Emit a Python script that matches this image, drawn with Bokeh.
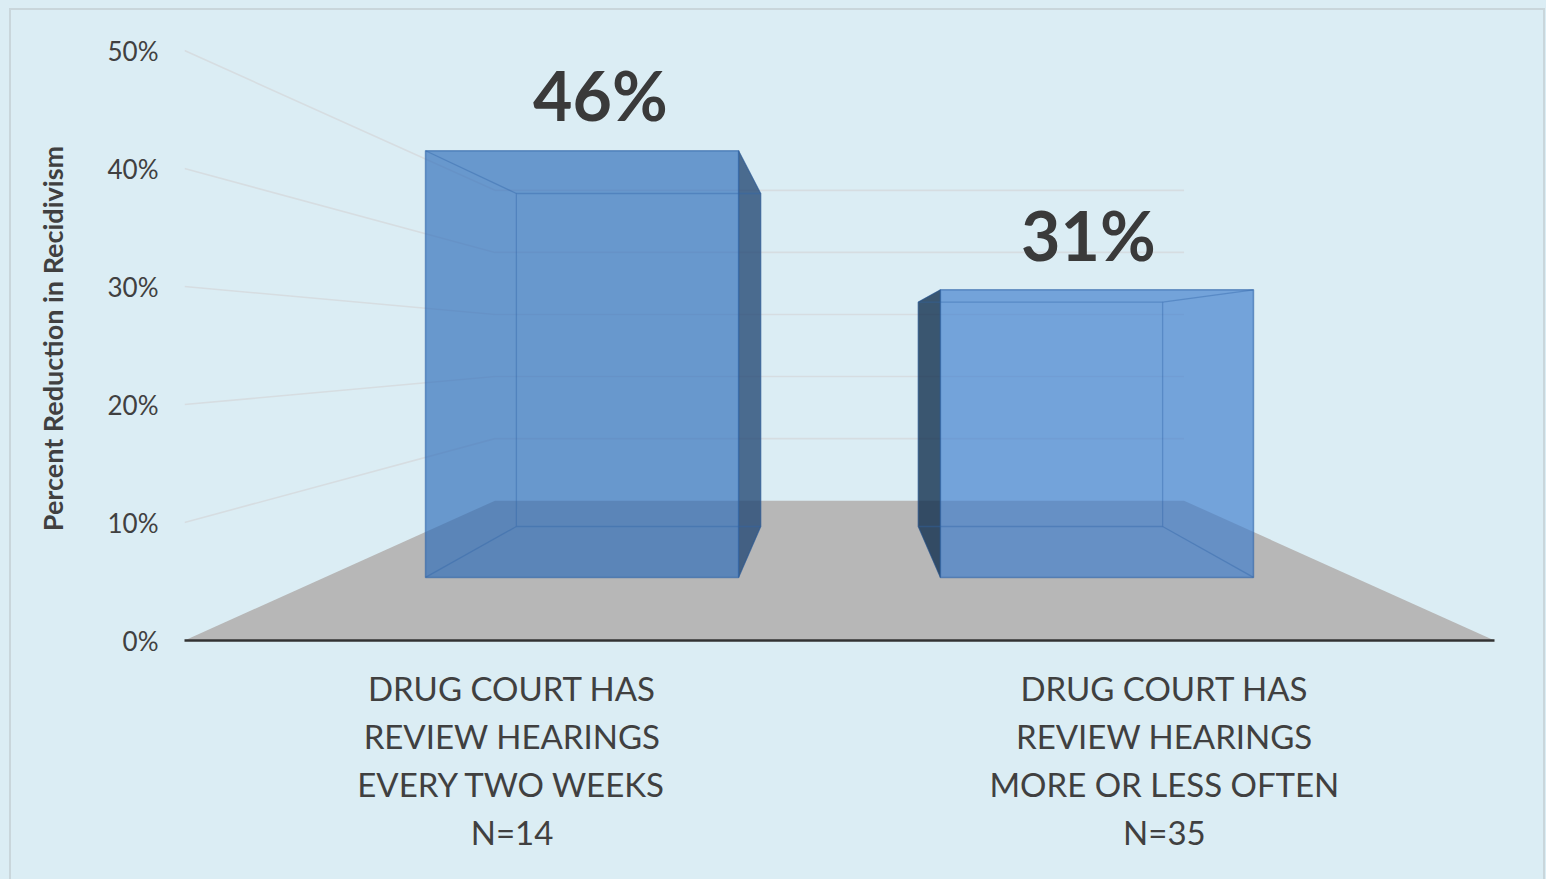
from bokeh.plotting import figure
from bokeh.embed import file_html
from bokeh.resources import INLINE
from bokeh.core.properties import value
from bokeh.models import Range1d, FixedTicker

# ---- data ----
categories = ["DRUG COURT HAS\nREVIEW HEARINGS\nEVERY TWO WEEKS\nN=14",
              "DRUG COURT HAS\nREVIEW HEARINGS\nMORE OR LESS OFTEN\nN=35"]
reduction = [46, 31]
value_labels = ["46%", "31%"]
y_ticks = [0, 10, 20, 30, 40, 50]
y_tick_labels = ["0%", "10%", "20%", "30%", "40%", "50%"]
y_title = "Percent Reduction in Recidivism"

# ---- 3D projection of the chart box (category units, percent units) ----
VP_X, VP_Y = 1.0, 25.0
K = 0.901
BAR_HALF = 0.304
D_FRONT, D_BACK = 0.302, 0.699
FLOOR_BACK = 1.0
label_x = [0.635, 1.38]
label_y = [46.3, 34.4]
cat_ticks = [0.5, 1.496]

def pr(x, y, d):
    s = 1.0 / (1.0 + K * d)
    return VP_X + s * (x - VP_X), VP_Y + s * (y - VP_Y)

def face(points):
    xy = [pr(*pt) for pt in points]
    return [a for a, _ in xy], [b for _, b in xy]

BG = "#dbedf4"
EDGE = "#c9d6db"
TXT = "#404040"
FONT = value("Lato")

p = figure(width=1532, height=869, output_backend="svg", toolbar_location=None,
           x_range=Range1d(0, 2), y_range=Range1d(0, 51.19),
           min_border_left=173, min_border_right=49, min_border_top=26, min_border_bottom=239,
           background_fill_color=None, border_fill_color=None, outline_line_color=None)
p.margin = (10, 0, 0, 11)
p.grid.visible = False
p.styles = {"background-color": BG, "box-shadow": f"0 0 0 2px {EDGE}, 0 0 0 30px {BG}"}

# floor
fx, fy = face([(0, 0, 0), (2, 0, 0), (2, 0, FLOOR_BACK), (0, 0, FLOOR_BACK)])
p.patch(fx, fy, fill_color="#b7b7b7", line_color=None)

# side wall + back wall gridlines
gx, gy = [], []
for t in y_ticks[1:]:
    a, b = face([(0, t, 0), (0, t, FLOOR_BACK), (2, t, FLOOR_BACK)])
    gx.append(a)
    gy.append(b)
p.multi_line(gx, gy, line_color="#d6dde1", line_width=1.6)

# bars
front_col = ["#2c6cb9", "#3d7dcd"]
outer_col = ["#264a76", "#122f4f"]
line_col = "#2f64a8"
for i, v in enumerate(reduction):
    xc = i + 0.5
    x0, x1 = xc - BAR_HALF, xc + BAR_HALF
    xs = x1 if xc < VP_X else x0
    sx, sy = face([(xs, 0, D_FRONT), (xs, v, D_FRONT), (xs, v, D_BACK), (xs, 0, D_BACK)])
    p.patch(sx, sy, fill_color=outer_col[i], fill_alpha=0.8, line_color=outer_col[i], line_alpha=0.5, line_width=1)
    bx, by = face([(x0, 0, D_FRONT), (x1, 0, D_FRONT), (x1, v, D_FRONT), (x0, v, D_FRONT)])
    p.patch(bx, by, fill_color=front_col[i], fill_alpha=0.66, line_color=line_col, line_alpha=0.6, line_width=1.5)
    for seg in ([(x0, 0, D_BACK), (x1, 0, D_BACK), (x1, v, D_BACK), (x0, v, D_BACK), (x0, 0, D_BACK)],
                [(x0, 0, D_FRONT), (x0, 0, D_BACK)], [(x1, 0, D_FRONT), (x1, 0, D_BACK)],
                [(x0, v, D_FRONT), (x0, v, D_BACK)], [(x1, v, D_FRONT), (x1, v, D_BACK)]):
        lx, ly = face(seg)
        p.line(lx, ly, line_color=line_col, line_alpha=0.4, line_width=1.3)

# value labels
p.text(label_x, label_y, text=value_labels, text_font=FONT, text_font_style="bold",
       text_font_size="68px", text_color="#3a3a3a", text_align="center", text_baseline="middle")

# axes
xa = p.xaxis[0]
xa.ticker = FixedTicker(ticks=cat_ticks)
xa.major_label_overrides = {cat_ticks[0]: categories[0], cat_ticks[1]: categories[1]}
xa.major_tick_line_color = None
xa.minor_tick_line_color = None
xa.axis_line_color = "#333333"
xa.axis_line_width = 2.5
xa.major_label_standoff = 21
xa.major_label_text_font = "Lato"
xa.major_label_text_font_size = "33px"
xa.major_label_text_color = TXT

ya = p.yaxis[0]
ya.ticker = FixedTicker(ticks=y_ticks)
ya.major_label_overrides = dict(zip(y_ticks, y_tick_labels))
ya.major_tick_line_color = None
ya.minor_tick_line_color = None
ya.axis_line_color = None
ya.major_label_standoff = 20
ya.major_label_text_font = "Lato"
ya.major_label_text_font_size = "26px"
ya.major_label_text_color = TXT
ya.axis_label = y_title
ya.axis_label_text_font = "Lato"
ya.axis_label_text_font_style = "bold"
ya.axis_label_text_font_size = "27px"
ya.axis_label_text_color = TXT
ya.axis_label_standoff = 36

open("out.html", "w").write(file_html(p, INLINE))
